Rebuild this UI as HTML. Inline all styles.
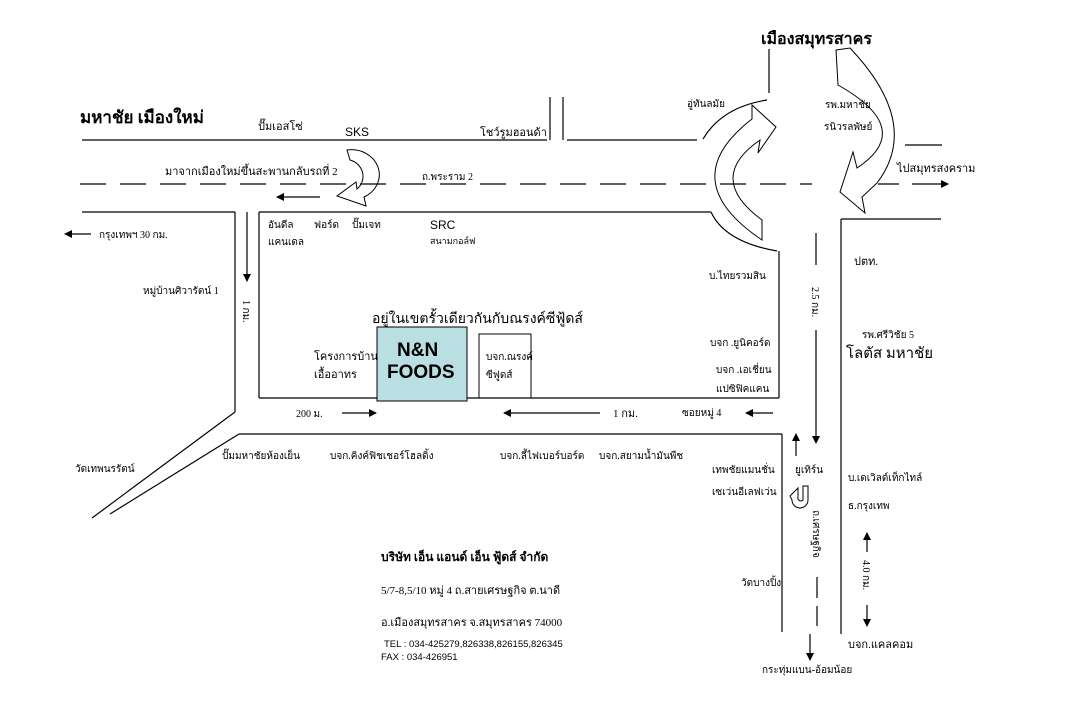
<!DOCTYPE html>
<html><head><meta charset="utf-8">
<style>
html,body{margin:0;padding:0;background:#fff;}
svg{display:block}
text{font-family:"Liberation Serif","DejaVu Sans",serif;font-size:11px;fill:#000}
.a{font-family:"Liberation Sans",sans-serif}
.b{font-weight:bold}
</style></head><body>
<svg width="1089" height="724" viewBox="0 0 1089 724" xmlns="http://www.w3.org/2000/svg">
<defs>
<marker id="ah" markerWidth="8" markerHeight="8" refX="7" refY="4" orient="auto" markerUnits="userSpaceOnUse"><path d="M0,0 L8,4 L0,8 Z" fill="#000"/></marker>
</defs>
<g stroke="#000" stroke-width="1.2" fill="none">
<line x1="82" y1="140" x2="547" y2="140"/>
<line x1="550" y1="97" x2="550" y2="140"/>
<line x1="563" y1="97" x2="563" y2="140"/>
<line x1="567" y1="140" x2="697" y2="140"/>
<path d="M703,139 Q722,107 767,100"/>
<line x1="769" y1="49" x2="769" y2="93"/>
<line x1="905" y1="145" x2="942" y2="145"/>
<line x1="80" y1="184" x2="812" y2="184" stroke-dasharray="26,14"/>
<line x1="878" y1="184" x2="899" y2="184"/>
<line x1="912" y1="184" x2="948" y2="184" marker-end="url(#ah)"/>
<line x1="82" y1="212" x2="235" y2="212"/>
<line x1="235" y1="212" x2="235" y2="412"/>
<line x1="259" y1="212" x2="259" y2="398"/>
<line x1="259" y1="212" x2="711" y2="212"/>
<path d="M711,212 Q725,242 777,251"/>
<line x1="779" y1="251" x2="779" y2="398"/>
<line x1="259" y1="398" x2="779" y2="398"/>
<line x1="841" y1="219" x2="941" y2="219"/>
<line x1="841" y1="219" x2="841" y2="634"/>
<line x1="235" y1="412" x2="92" y2="518"/>
<line x1="239" y1="434" x2="110" y2="514"/>
<line x1="239" y1="434" x2="782" y2="434"/>
<line x1="782" y1="434" x2="782" y2="632"/>
<line x1="816" y1="233" x2="816" y2="265"/>
<line x1="816" y1="330" x2="816" y2="443" marker-end="url(#ah)"/>
<line x1="817" y1="577" x2="817" y2="598"/>
<line x1="817" y1="606" x2="817" y2="626"/>
<line x1="810" y1="634" x2="810" y2="660" marker-end="url(#ah)"/>
<line x1="320" y1="197" x2="277" y2="197" marker-end="url(#ah)"/>
<line x1="91" y1="234" x2="65" y2="234" marker-end="url(#ah)"/>
<line x1="247" y1="212" x2="247" y2="281" marker-end="url(#ah)"/>
<line x1="342" y1="413" x2="376" y2="413" marker-end="url(#ah)"/>
<line x1="600" y1="413" x2="504" y2="413" marker-end="url(#ah)"/>
<line x1="773" y1="413" x2="746" y2="413" marker-end="url(#ah)"/>
<line x1="796" y1="456" x2="796" y2="434" marker-end="url(#ah)"/>
<line x1="867" y1="552" x2="867" y2="533" marker-end="url(#ah)"/>
<line x1="867" y1="605" x2="867" y2="626" marker-end="url(#ah)"/>
<path d="M762,240 Q673,180 752,119 L752,105 L776,127 L758,153 L760,140 Q705,178 762,220 Z" stroke-width="1"/>
<path d="M836,50 L850,48 Q922,124 877,183 L862,197 L865,213 L840,192 L853,152 L857,168 Q916,129 838,85 Z" stroke-width="1"/>
<path d="M347,150 A28 25 0 0 1 364,197 L366,206 L337,196 L356,182 L357,189 A18 17 0 0 0 350,160 Z" stroke-width="1"/>
<path d="M808,486 L808,500 A8 8 0 0 1 792,500 L790,496 L798,488 L798,497 A3 3 0 0 0 803,500 L803,486 Z" stroke-width="1"/>
</g>
<rect x="377" y="327" width="90" height="74" fill="#b9dfe2" stroke="#000" stroke-width="1"/>
<rect x="479" y="334" width="52" height="64" fill="none" stroke="#000" stroke-width="1"/>
<text x="80" y="123" class="b" style="font-size:17px">มหาชัย เมืองใหม่</text>
<text x="258" y="130">ปั๊มเอสโซ่</text>
<text x="345" y="136" class="a" style="font-size:12px">SKS</text>
<text x="480" y="136">โชว์รูมฮอนด้า</text>
<text x="761" y="44" class="b" style="font-size:16px">เมืองสมุทรสาคร</text>
<text x="687" y="107" style="font-size:10px">อู่ทันลมัย</text>
<text x="825" y="108" style="font-size:10px">รพ.มหาชัย</text>
<text x="824" y="130" style="font-size:10px">รนิวรลพัษย์</text>
<text x="897" y="172">ไปสมุทรสงคราม</text>
<text x="165" y="175">มาจากเมืองใหม่ขึ้นสะพานกลับรถที่ 2</text>
<text x="422" y="180" style="font-size:10px">ถ.พระราม 2</text>
<text x="99" y="238" style="font-size:10px">กรุงเทพฯ  30 กม.</text>
<text x="268" y="228" style="font-size:10px">อันดีล</text>
<text x="268" y="245" style="font-size:10px">แคนเดล</text>
<text x="314" y="228" style="font-size:10px">ฟอร์ด</text>
<text x="352" y="228" style="font-size:10px">ปั๊มเจท</text>
<text x="430" y="229" class="a" style="font-size:12px">SRC</text>
<text x="430" y="244" style="font-size:9px">สนามกอล์ฟ</text>
<text x="143" y="294" style="font-size:10px">หมู่บ้านศิวารัตน์  1</text>
<text x="0" y="0" transform="translate(243,300) rotate(90)" style="font-size:10px">1 กม.</text>
<text x="854" y="265">ปตท.</text>
<text x="709" y="279" style="font-size:10px">บ.ไทยรวมสิน</text>
<text x="0" y="0" transform="translate(812,287) rotate(90)" style="font-size:10px">2.5 กม.</text>
<text x="372" y="323" style="font-size:14px">อยู่ในเขตรั้วเดียวกันกับณรงค์ซีฟู้ดส์</text>
<text x="397" y="356" class="a b" style="font-size:19px">N&amp;N</text>
<text x="387" y="378" class="a b" style="font-size:19px">FOODS</text>
<text x="486" y="360" style="font-size:10px">บจก.ณรงค์</text>
<text x="486" y="378" style="font-size:10px">ซีฟูดส์</text>
<text x="314" y="360">โครงการบ้าน</text>
<text x="314" y="378">เอื้ออาทร</text>
<text x="710" y="346" style="font-size:10px">บจก .ยูนิคอร์ด</text>
<text x="716" y="373" style="font-size:10px">บจก .เอเชี่ยน</text>
<text x="716" y="392" style="font-size:10px">แปซิฟิคแคน</text>
<text x="862" y="338" style="font-size:10px">รพ.ศรีวิชัย 5</text>
<text x="846" y="358" style="font-size:15px">โลตัส มหาชัย</text>
<text x="296" y="417" style="font-size:10px">200 ม.</text>
<text x="613" y="417" style="font-size:11px">1 กม.</text>
<text x="682" y="416" style="font-size:10px">ซอยหมู่ 4</text>
<text x="75" y="472" style="font-size:10px">วัดเทพนรรัตน์</text>
<text x="222" y="459" style="font-size:10px">ปั๊มมหาชัยห้องเย็น</text>
<text x="330" y="459" style="font-size:10px">บจก.คิงค์ฟิชเชอร์โฮลดิ้ง</text>
<text x="500" y="459" style="font-size:10px">บจก.ลี้ไฟเบอร์บอร์ด</text>
<text x="599" y="459" style="font-size:10px">บจก.สยามน้ำมันพืช</text>
<text x="712" y="473" style="font-size:10px">เทพชัยแมนชั่น</text>
<text x="712" y="495" style="font-size:10px">เซเว่นอีเลฟเว่น</text>
<text x="795" y="473" style="font-size:10px">ยูเทิร์น</text>
<text x="848" y="481" style="font-size:10px">บ.เดเวิลด์เท็กไทล์</text>
<text x="848" y="509" style="font-size:10px">ธ.กรุงเทพ</text>
<text x="0" y="0" transform="translate(813,510) rotate(90)" style="font-size:10px">ถ.เศรษฐกิจ</text>
<text x="0" y="0" transform="translate(863,560) rotate(90)" style="font-size:10px">4.0 กม.</text>
<text x="741" y="586" style="font-size:10px">วัดบางปิ้ง</text>
<text x="848" y="648">บจก.แคลคอม</text>
<text x="762" y="673" style="font-size:10px">กระทุ่มแบน-อ้อมน้อย</text>
<text x="381" y="561" class="b" style="font-size:12px">บริษัท  เอ็น  แอนด์  เอ็น  ฟู้ดส์  จำกัด</text>
<text x="381" y="594" style="font-size:11px">5/7-8,5/10 หมู่ 4 ถ.สายเศรษฐกิจ  ต.นาดี</text>
<text x="381" y="626" style="font-size:11px">อ.เมืองสมุทรสาคร  จ.สมุทรสาคร 74000</text>
<text x="384" y="647" class="a" style="font-size:9.5px">TEL :  034-425279,826338,826155,826345</text>
<text x="381" y="660" class="a" style="font-size:9.5px">FAX :  034-426951</text>
</svg>
</body></html>
